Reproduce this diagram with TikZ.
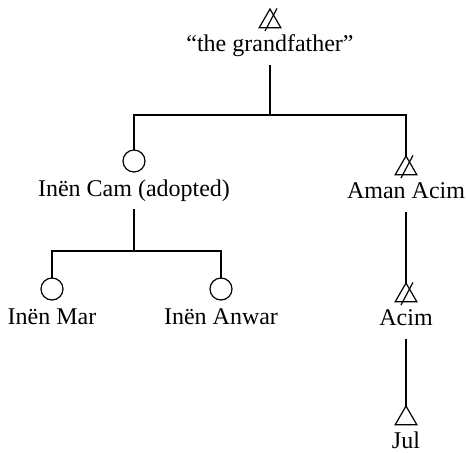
\documentclass[tikz,border=0pt]{standalone}
\usepackage{fontspec}
\setmainfont{Liberation Serif}
\usepackage{tikz}
\usetikzlibrary{positioning,shapes.geometric}
\pgfkeys{tikz/male/.style={draw,regular polygon,regular polygon sides=3,minimum size=12.5pt,inner sep=0pt,outer sep=0pt}}
\pgfkeys{tikz/female/.style={draw,circle,minimum size=11pt,inner sep=0pt,outer sep=0pt}}
\pgfkeys{tikz/lbl/.style={inner sep=0pt,outer sep=0pt,text height=8pt,text depth=1.5pt,font=\fontsize{12}{14}\selectfont}}

\begin{document}
\begin{tikzpicture}[x=0.5pt,y=-0.5pt,line width=0.6pt]
  \useasboundingbox (0,0) rectangle (466,452);

  \node[male] (gf) at (270,21.5) {};
  \node[lbl,below=4pt of gf] (gfl) {“the grandfather”};

  \node[female] (cam) at (134,161) {};
  \node[lbl,below=4pt of cam] (caml) {Inën Cam (adopted)};
  \node[male] (aman) at (406,168.5) {};
  \node[lbl,below=4pt of aman] (amanl) {Aman Acim};

  \node[female] (mar) at (52,289) {};
  \node[lbl,below=4pt of mar] (marl) {Inën Mar};
  \node[female] (anwar) at (221,289) {};
  \node[lbl,below=4pt of anwar] (anwarl) {Inën Anwar};
  \node[male] (acim) at (406,295.5) {};
  \node[lbl,below=4pt of acim] (aciml) {Acim};

  \node[male] (jul) at (406,418.5) {};
  \node[lbl,below=4pt of jul] (jull) {Jul};

  \coordinate (j1) at (270,115);
  \coordinate (j2) at (134,251);

  \draw[shorten <=5pt] (gfl) -- (j1);
  \draw (cam) |- (j1) -| (aman);
  \draw[shorten <=5pt] (caml) -- (j2);
  \draw (mar) |- (j2) -| (anwar);
  \draw[shorten <=5pt] (amanl) -- (acim);
  \draw[shorten <=5pt] (aciml) -- (jul);

  % deceased
  \foreach \n in {gf,aman,acim}
    \draw ([shift={(-2.5pt,-11pt)}]\n.north) -- ([shift={(3.5pt,0.3pt)}]\n.north);
\end{tikzpicture}
\end{document}
